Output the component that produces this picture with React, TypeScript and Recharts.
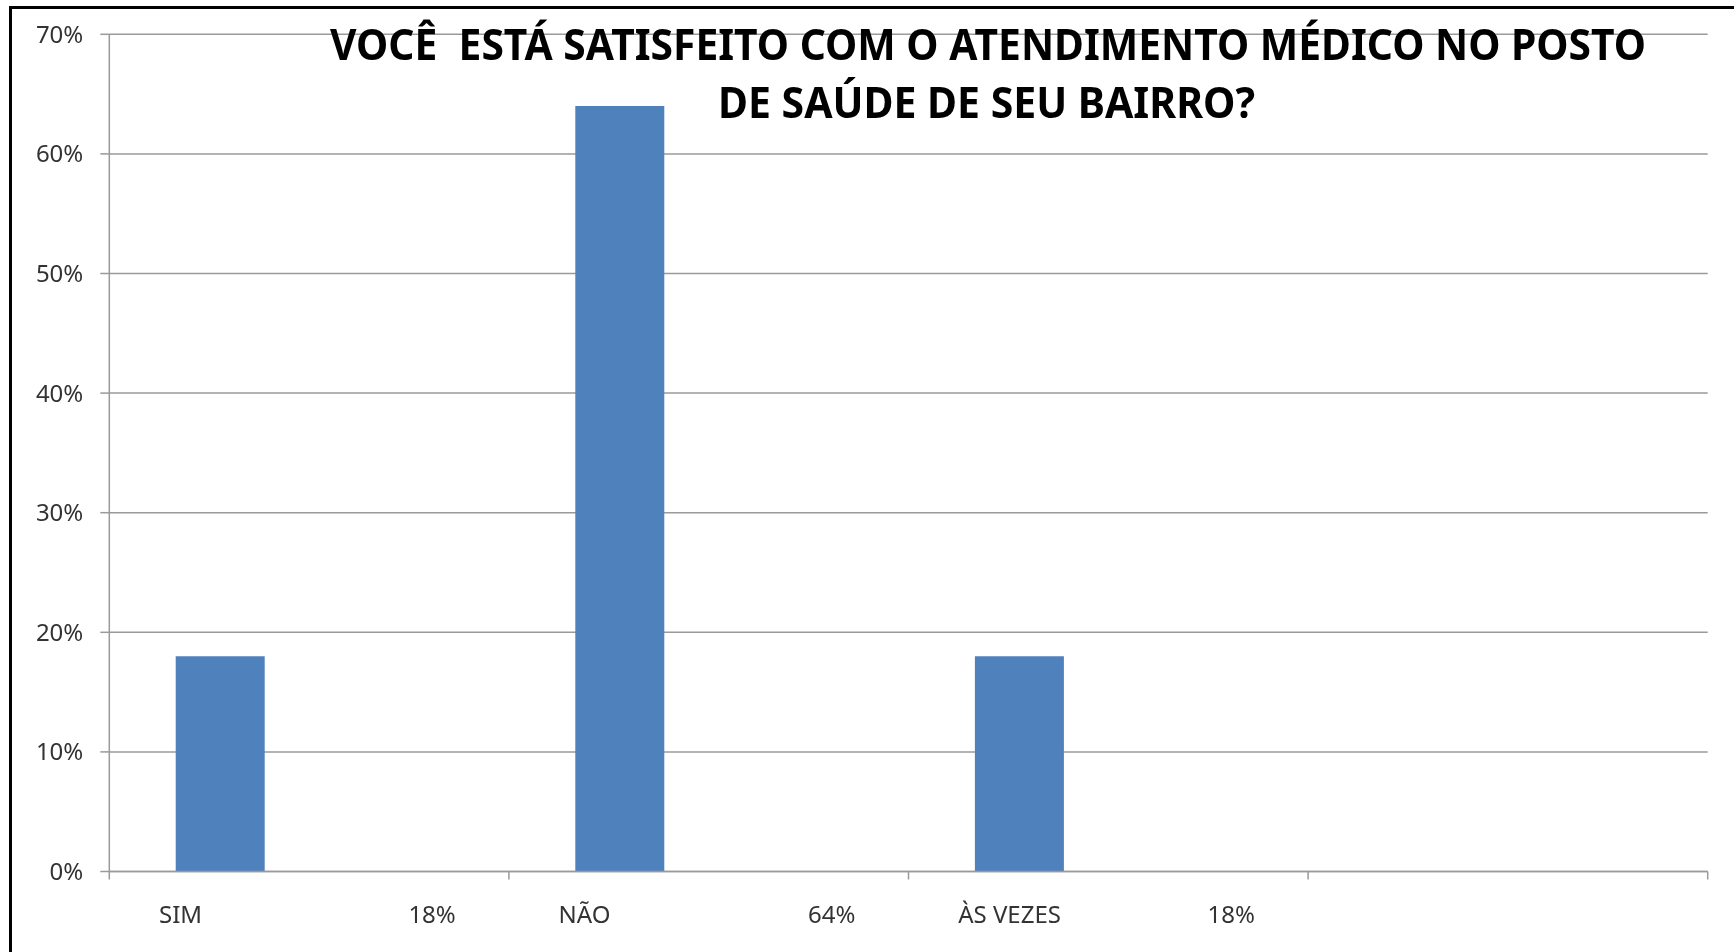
import { BarChart, Bar, XAxis, YAxis, CartesianGrid } from "recharts";

const categories = ["SIM", "NÃO", "ÀS VEZES", ""];
const shares = [18, 64, 18, null];
const shareLabels = ["18%", "64%", "18%", ""];
// the source chart had two more (empty) series per category
const seriesB = [null, null, null, null];
const seriesC = [null, null, null, null];
const yTicks = [0, 10, 20, 30, 40, 50, 60, 70];

const titleLines = [
  "VOCÊ  ESTÁ SATISFEITO COM O ATENDIMENTO MÉDICO NO POSTO",
  "DE SAÚDE DE SEU BAIRRO?",
];

const data = categories.map((name, i) => ({
  name,
  label: shareLabels[i],
  share: shares[i],
  b: seriesB[i],
  c: seriesC[i],
}));

const W = 1718;
const H = 930;
const MARGIN = { top: 26.3, right: 18.3, left: 21.3, bottom: 16.5 };
const Y_AXIS_W = 80;
const PLOT_W = W - MARGIN.left - MARGIN.right - Y_AXIS_W;
const BAND = PLOT_W / categories.length;
const GRID = "#9a9a9a";
const FONT = "'Noto Sans', 'DejaVu Sans', sans-serif";

function CategoryTick(props: any) {
  const { x, y, payload, index } = props;
  const i = payload?.index ?? index;
  const left = x - BAND / 2;
  const row = data[i];
  const last = i === categories.length - 1;
  return (
    <g>
      <line x1={left} y1={y} x2={left} y2={y + 8} stroke={GRID} strokeWidth={1.5} />
      {last && (
        <line x1={left + BAND} y1={y} x2={left + BAND} y2={y + 8} stroke={GRID} strokeWidth={1.5} />
      )}
      <text x={left + 49.7} y={y + 51.5} textAnchor="start" fontSize={24} fill="#333" fontFamily={FONT}>
        {row?.name}
      </text>
      <text x={left + 346.5} y={y + 51.5} textAnchor="end" fontSize={24} fill="#333" fontFamily={FONT}>
        {row?.label}
      </text>
    </g>
  );
}

export default function App() {
  return (
    <div style={{ position: "relative", width: W, height: H }}>
      <div
        style={{
          position: "fixed",
          left: 9,
          top: 6,
          width: 1725,
          height: 946,
          borderTop: "3px solid #000",
          borderLeft: "3px solid #000",
          boxSizing: "border-box",
          pointerEvents: "none",
        }}
      />
      <div style={{ position: "absolute", left: 0, top: 0 }}>
        <BarChart
          width={W}
          height={H}
          data={data}
          margin={MARGIN}
          barCategoryGap={66.4}
          barGap={0}
        >
          <CartesianGrid vertical={false} stroke={GRID} strokeWidth={1.5} />
          <XAxis
            dataKey="name"
            interval={0}
            height={50}
            tickLine={false}
            tickSize={0}
            tickMargin={0}
            axisLine={{ stroke: GRID, strokeWidth: 1.5 }}
            tick={<CategoryTick />}
          />
          <YAxis
            width={Y_AXIS_W}
            domain={[0, 70]}
            ticks={yTicks}
            interval={0}
            tickFormatter={(v: number) => `${v}%`}
            tickSize={9}
            tickMargin={17}
            axisLine={{ stroke: GRID, strokeWidth: 1.5 }}
            tickLine={{ stroke: GRID, strokeWidth: 1.5 }}
            tick={{ fontSize: 24, fill: "#333", fontFamily: FONT }}
          />
          <Bar dataKey="share" fill="#4f81bd" isAnimationActive={false} />
          <Bar dataKey="b" fill="#c0504d" isAnimationActive={false} />
          <Bar dataKey="c" fill="#9bbb59" isAnimationActive={false} />
        </BarChart>
      </div>
      <svg
        width={W}
        height={140}
        style={{ position: "absolute", left: 0, top: 0, pointerEvents: "none" }}
      >
        <text
          x={322}
          y={51.5}
          textLength={1316}
          lengthAdjust="spacingAndGlyphs"
          fontSize={43}
          fontWeight="bold"
          fontFamily={FONT}
          fill="#000"
          style={{ whiteSpace: "pre" }}
        >
          {titleLines[0]}
        </text>
        <text
          x={710}
          y={110}
          textLength={537}
          lengthAdjust="spacingAndGlyphs"
          fontSize={43}
          fontWeight="bold"
          fontFamily={FONT}
          fill="#000"
        >
          {titleLines[1]}
        </text>
      </svg>
    </div>
  );
}
